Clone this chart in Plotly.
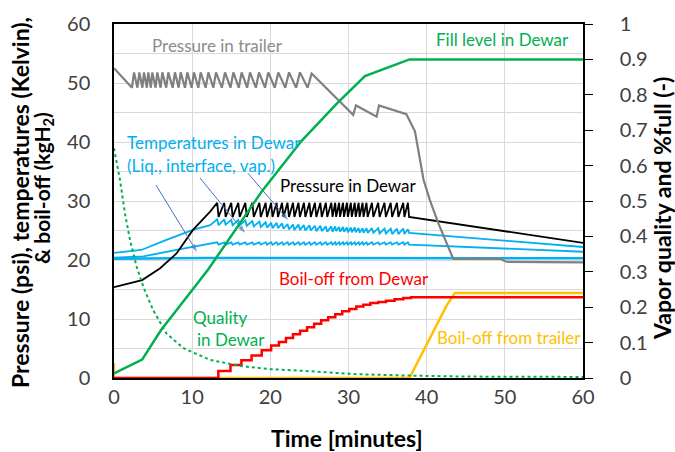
import plotly.graph_objects as go

# ---------------- data ----------------
# Fill level in Dewar (right axis, fraction)
fill_t = [0, 3.6, 6.0, 12.0, 19.0, 24.0, 28.5, 32.1, 37.8, 60]
fill_v = [0.013, 0.052, 0.135, 0.305, 0.53, 0.67, 0.775, 0.853, 0.9, 0.9]

# Vapor quality in Dewar (right axis)
qual_t = [0, 0.77, 1.4, 2.05, 2.9, 3.75, 5.0, 6.7, 8.9, 12.3, 16.5, 20.0, 24.4, 30.8, 37.2, 45, 60]
qual_v = [0.649, 0.559, 0.465, 0.39, 0.314, 0.258, 0.192, 0.126, 0.084, 0.051, 0.033, 0.025, 0.02, 0.011, 0.007, 0.004, 0.003]

# Pressure in trailer (psi)
trailer_t = [0, 2.3, 2.56, 3.0, 3.24, 3.63, 3.84, 4.2, 4.39, 4.72, 4.9, 5.32, 5.54, 5.96, 6.18,
             6.68, 6.95, 7.5, 7.8, 8.27, 8.53, 9.08, 9.38, 9.93, 10.23, 10.79, 11.09, 11.73, 12.07,
             12.71, 13.05, 13.8, 14.2, 14.9, 15.27, 15.96, 16.33, 17.03, 17.4, 18.15, 18.55,
             19.32, 19.74, 20.57, 21.02, 21.91, 22.39, 23.3, 23.79, 24.77, 25.29,
             30.6, 30.96, 33.6, 33.9, 37.4, 38.5, 39.6, 40.4, 41.5, 43.4, 49.4, 50.2, 60]
trailer_p = [52.5, 49.2, 51.8, 49.2, 51.8, 49.2, 51.8, 49.2, 51.8, 49.2, 51.8, 49.2, 51.8, 49.2, 51.8,
             49.2, 51.8, 49.2, 51.8, 49.2, 51.8, 49.2, 51.8, 49.2, 51.8, 49.2, 51.8, 49.2, 51.8,
             49.2, 51.8, 49.2, 51.8, 49.2, 51.8, 49.2, 51.8, 49.2, 51.8, 49.2, 51.8,
             49.2, 51.8, 49.2, 51.8, 49.2, 51.8, 49.2, 51.8, 49.2, 51.6,
             44.6, 46.2, 44.3, 46.2, 44.7, 41.8, 33.6, 30.2, 26.2, 20.2, 20.2, 19.7, 19.6]

# Dewar vent cycles (times of the sawtooth peaks and the drops right after them)
vent_t = [13.2, 14.1, 15.0, 15.9, 16.8, 17.7, 18.6,
          19.4, 20.1, 20.8, 21.5, 22.2, 22.9, 23.6, 24.3, 25.0, 25.7, 26.4, 27.1, 27.8,
          28.3, 28.8, 29.3, 29.8, 30.3, 30.8, 31.3, 31.8, 32.3,
          33.0, 33.8, 34.6, 35.4, 36.2, 37.0, 37.6]
drop_t = [13.38, 14.28, 15.18, 16.08, 16.98, 17.88, 18.78,
          19.58, 20.28, 20.98, 21.68, 22.38, 23.08, 23.78, 24.48, 25.18, 25.88, 26.58, 27.28, 27.96,
          28.42, 28.92, 29.42, 29.92, 30.42, 30.92, 31.42, 31.92, 32.45,
          33.18, 33.98, 34.78, 35.58, 36.38, 37.15, 37.75]

# Pressure in Dewar (psi)
pdew_pre_t = [0, 3.6, 5.9, 8.0, 10.1, 12.3]
pdew_pre_v = [15.4, 16.6, 18.6, 21.1, 25.1, 28.2]
pdew_peak = 29.7
pdew_trough = 27.3
pdew_post_t = [60]
pdew_post_v = [22.9]

# Vapor temperature in Dewar (K)
tvap_pre_t = [0, 3.5, 6.7, 10.1, 12.3]
tvap_pre_v = [21.2, 21.7, 23.4, 25.1, 25.9]
tvap_peak = [26.9, 26.9, 26.8, 26.8, 26.7, 26.6, 26.5,
             26.4, 26.3, 26.3, 26.2, 26.1, 26.0, 26.0, 25.9, 25.9, 25.8, 25.8, 25.7, 25.7,
             25.7, 25.6, 25.6, 25.5, 25.5, 25.5, 25.4, 25.4, 25.4,
             25.4, 25.4, 25.3, 25.3, 25.3, 25.3, 25.2]
tvap_trough = [25.9, 26.0, 25.9, 25.9, 25.8, 25.7, 25.6,
               25.5, 25.4, 25.4, 25.3, 25.2, 25.1, 25.1, 25.0, 25.0, 24.9, 24.9, 24.8, 24.8,
               24.9, 24.8, 24.8, 24.7, 24.7, 24.7, 24.6, 24.6, 24.6,
               24.6, 24.5, 24.5, 24.4, 24.4, 24.4, 24.6]
tvap_post_t = [60]
tvap_post_v = [22.2]

# Interface temperature in Dewar (K)
tint_pre_t = [0, 3.75, 8.0, 11.4]
tint_pre_v = [20.4, 20.6, 21.7, 22.5]
tint_peak = 23.0
tint_trough = 22.6
tint_post_t = [60]
tint_post_v = [21.4]

# Liquid temperature in Dewar (K)
tliq_t = [0, 8, 12, 60]
tliq_v = [20.2, 20.3, 20.35, 20.3]

# Boil-off from Dewar (kg), staircase
boil_dewar_t = [0, 13.35, 14.9, 16.3, 17.6, 18.9, 20.1, 21.1, 22.0, 22.9, 23.8, 24.7, 25.6, 26.5,
                27.4, 28.3, 29.2, 30.1, 31.0, 31.9, 32.8, 33.8, 34.8, 35.9, 37.0, 38.0, 60]
boil_dewar_v = [0, 1.2, 2.2, 3.0, 3.8, 4.7, 5.5, 6.1, 6.8, 7.4, 8.0, 8.6, 9.2, 9.8,
                10.3, 10.8, 11.3, 11.7, 12.1, 12.4, 12.7, 12.9, 13.1, 13.35, 13.55, 13.7, 13.7]

# Boil-off from trailer (kg)
boil_trailer_t = [0, 0, 37.8, 42.6, 43.6, 60]
boil_trailer_v = [2.5, 0, 0, 12.4, 14.4, 14.4]

# Pointer arrows from the temperature label (tail -> head, data units)
arrow_tail_t = [5.37, 11.0, 17.14]
arrow_tail_v = [32.7, 33.9, 34.7]
arrow_head_t = [10.6, 16.76, 22.26]
arrow_head_v = [21.4, 24.6, 26.8]


def sawtooth(pre_t, pre_v, peaks, troughs, post_t, post_v):
    xs, ys = list(pre_t), list(pre_v)
    n = len(vent_t)
    pk = peaks if isinstance(peaks, list) else [peaks] * n
    tr = troughs if isinstance(troughs, list) else [troughs] * n
    for i in range(n):
        xs += [vent_t[i], drop_t[i]]
        ys += [pk[i], tr[i]]
    return xs + list(post_t), ys + list(post_v)


GREEN = '#00B050'
BLUE = '#00B0F0'
RED = '#FF0000'
ORANGE = '#FFC000'
GRAY = '#808080'
LW = 2.5
SW = 1.8

fig = go.Figure()
fig.add_trace(go.Scatter(x=boil_trailer_t, y=boil_trailer_v, mode='lines',
                         line=dict(color=ORANGE, width=LW)))
fig.add_trace(go.Scatter(x=boil_dewar_t, y=boil_dewar_v, mode='lines',
                         line=dict(color=RED, width=LW, shape='hv')))
fig.add_trace(go.Scatter(x=tliq_t, y=tliq_v, mode='lines', line=dict(color=BLUE, width=LW)))
x, y = sawtooth(tint_pre_t, tint_pre_v, tint_peak, tint_trough, tint_post_t, tint_post_v)
fig.add_trace(go.Scatter(x=x, y=y, mode='lines', line=dict(color=BLUE, width=SW)))
x, y = sawtooth(tvap_pre_t, tvap_pre_v, tvap_peak, tvap_trough, tvap_post_t, tvap_post_v)
fig.add_trace(go.Scatter(x=x, y=y, mode='lines', line=dict(color=BLUE, width=SW)))
x, y = sawtooth(pdew_pre_t, pdew_pre_v, pdew_peak, pdew_trough, pdew_post_t, pdew_post_v)
fig.add_trace(go.Scatter(x=x, y=y, mode='lines', line=dict(color='black', width=SW)))
fig.add_trace(go.Scatter(x=trailer_t, y=trailer_p, mode='lines', line=dict(color=GRAY, width=2.2)))
for i in range(len(arrow_tail_t)):
    fig.add_trace(go.Scatter(x=[arrow_tail_t[i], arrow_head_t[i]],
                             y=[arrow_tail_v[i], arrow_head_v[i]], mode='lines+markers',
                             line=dict(color='#4472C4', width=1),
                             marker=dict(symbol='arrow', size=[0, 8], angleref='previous',
                                         color='#4472C4', line=dict(width=0))))
fig.add_trace(go.Scatter(x=fill_t, y=fill_v, mode='lines', yaxis='y2',
                         line=dict(color=GREEN, width=LW)))
fig.add_trace(go.Scatter(x=qual_t, y=qual_v, mode='lines', yaxis='y2',
                         line=dict(color=GREEN, width=2, dash='dot')))

FONT = 'Lato'
TICKF = dict(family=FONT, size=20, color='#404040')
GRID = '#D9D9D9'

labels = [
    ('Pressure in trailer', 4.6, 56.4, '#8C8C8C'),
    ('Fill level in Dewar', 40.9, 57.3, GREEN),
    ('Temperatures in Dewar', 1.4, 40.0, BLUE),
    ('(Liq., interface, vap.)', 1.4, 36.1, BLUE),
    ('Pressure in Dewar', 21.0, 32.7, 'black'),
    ('Boil-off from Dewar', 20.85, 16.95, RED),
    ('Quality', 9.85, 10.3, GREEN),
    ('in Dewar', 10.36, 6.6, GREEN),
    ('Boil-off from trailer', 41.06, 6.95, ORANGE),
]
ann = []
for txt, tx, ty, col in labels:
    ann.append(dict(text=txt, x=tx, y=ty, xref='x', yref='y', xanchor='left', yanchor='middle',
                    showarrow=False, font=dict(family=FONT, size=17, color=col)))

TITLEF = dict(family=FONT, size=23, color='black')
# plot area: x 114..583 px, y 24..378 px  -> paper coords
ann.append(dict(text='<b>Pressure (psi), temperatures (Kelvin),</b>',
                textangle=-90, x=(20 - 114) / 469, y=(378 - 203) / 354, xref='paper', yref='paper',
                xanchor='center', yanchor='middle', showarrow=False, font=TITLEF))
ann.append(dict(text='<b>&amp; boil-off (kgH<sub>2</sub>)</b>',
                textangle=-90, x=(43 - 114) / 469, y=(378 - 188) / 354, xref='paper', yref='paper',
                xanchor='center', yanchor='middle', showarrow=False,
                font=dict(family=FONT, size=21, color='black')))
ann.append(dict(text='<b>Vapor quality and %full (-)</b>', textangle=-90,
                x=(662 - 114) / 469, y=(378 - 209) / 354,
                xref='paper', yref='paper', xanchor='center', yanchor='middle',
                showarrow=False, font=TITLEF))
ann.append(dict(text='<b>Time [minutes]</b>', x=(347 - 114) / 469, y=(378 - 438) / 354,
                xref='paper', yref='paper',
                xanchor='center', yanchor='middle', showarrow=False, font=TITLEF))

fig.update_layout(
    width=675, height=452,
    margin=dict(l=114, r=92, t=24, b=74),
    plot_bgcolor='white', paper_bgcolor='white', showlegend=False,
    xaxis=dict(range=[0, 60], tick0=0, dtick=10, showgrid=True, gridcolor=GRID, gridwidth=1,
               showline=True, linecolor='black', linewidth=1.5, mirror=True, zeroline=False,
               ticks='', tickfont=TICKF, ticklabelstandoff=0),
    yaxis=dict(range=[0, 60], tick0=0, dtick=10, showgrid=True, gridcolor=GRID, gridwidth=1,
               minor=dict(dtick=5, showgrid=True, gridcolor=GRID, gridwidth=1),
               showline=True, linecolor='black', linewidth=1.5, zeroline=False,
               ticks='', tickfont=TICKF, ticklabelstandoff=18),
    yaxis2=dict(range=[0, 1], tick0=0, dtick=0.1, overlaying='y', side='right', showgrid=False,
                showline=True, linecolor='black', linewidth=1.5, zeroline=False,
                ticks='outside', ticklen=8, tickcolor='black', tickfont=TICKF,
                ticklabelstandoff=23),
    annotations=ann,
)

fig.write_html('out.html', config={'displayModeBar': False},
               post_script="document.body.style.margin='0px';")
